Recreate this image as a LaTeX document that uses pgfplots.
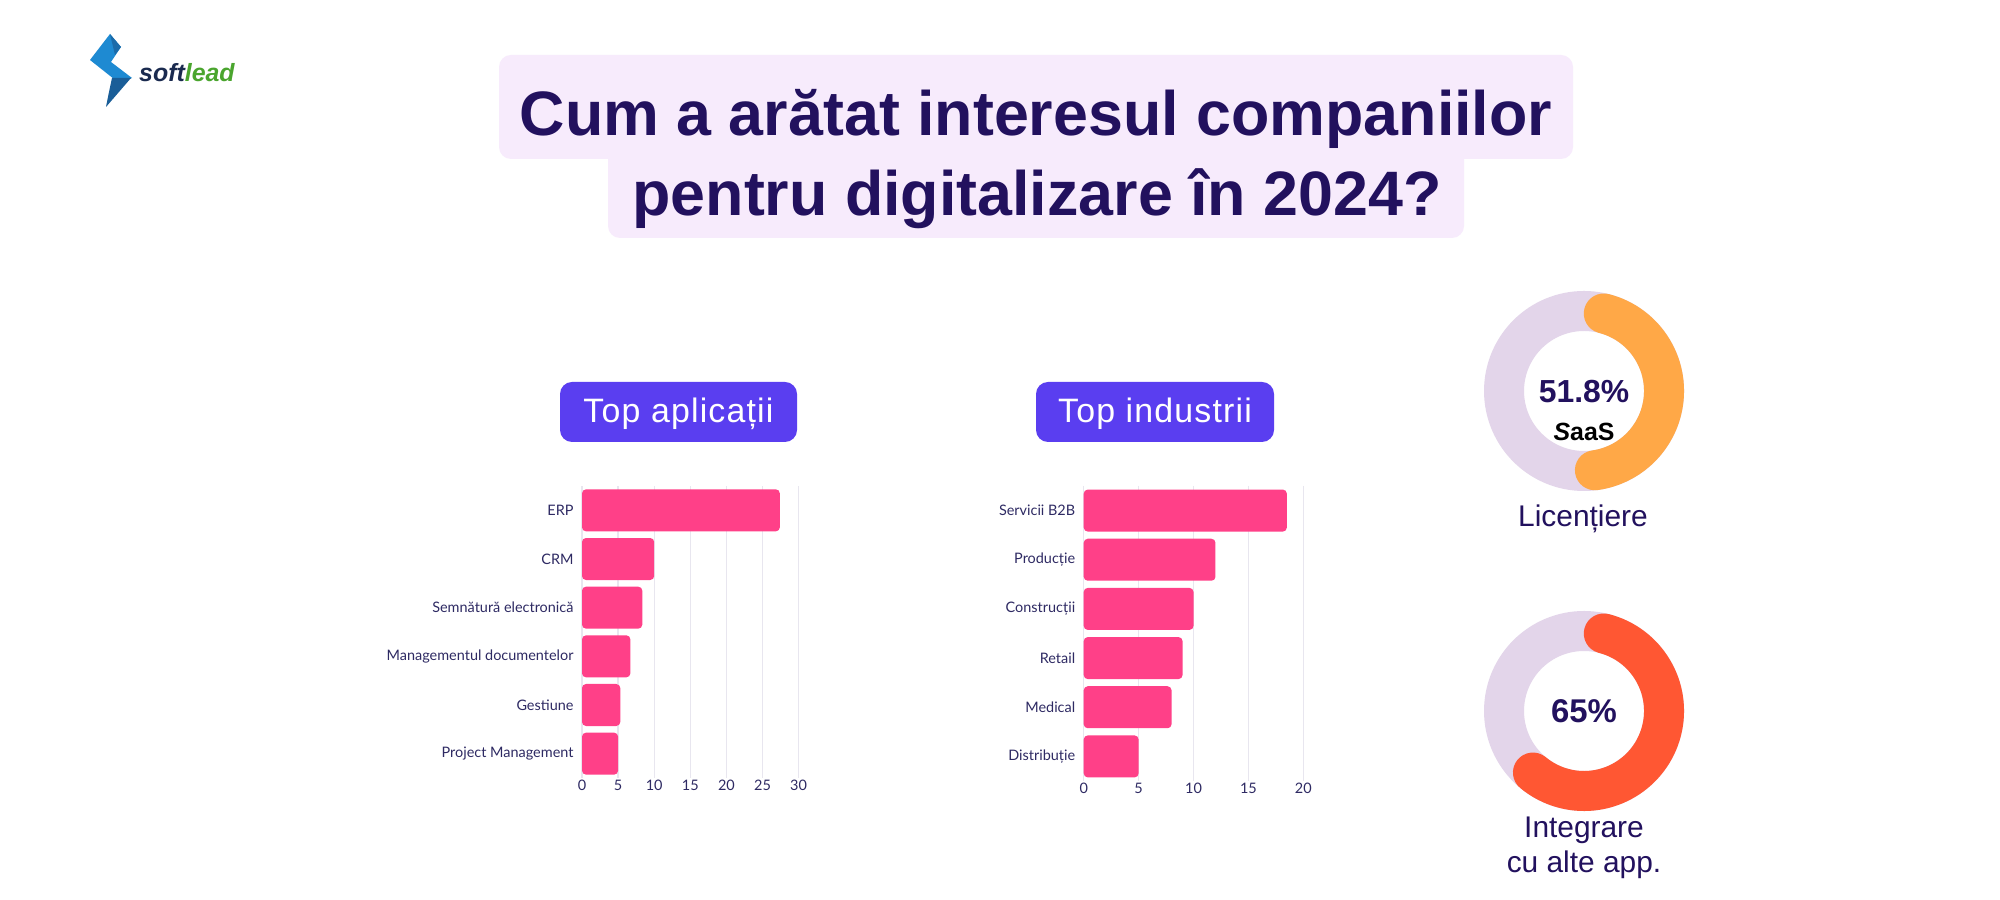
\documentclass[border=0pt]{standalone}
\usepackage{fontspec}
\setmainfont{Liberation Sans}
\newfontfamily\lato{Lato}
\newfontfamily\pillfont[LetterSpace=3.5]{Liberation Sans}
\usepackage{pgfplots}
\pgfplotsset{compat=1.18}
\definecolor{titlec}{HTML}{22115E}
\definecolor{titlebox}{HTML}{F7EBFC}
\definecolor{pillc}{HTML}{5A3EF0}
\definecolor{barc}{HTML}{FF4088}
\definecolor{tickc}{HTML}{2E2A63}
\definecolor{gridc}{HTML}{E8E6EF}
\definecolor{orangec}{HTML}{FFA847}
\definecolor{redc}{HTML}{FF5733}
\definecolor{trackc}{HTML}{E3D5EA}
\definecolor{logoblue}{HTML}{1E8AD2}
\definecolor{logodark}{HTML}{1A5E98}
\definecolor{logonavy}{HTML}{1A2A4F}
\definecolor{logogreen}{HTML}{4AA52E}

\pgfplotsset{
  barchart/.style={
    anchor=south west, scale only axis,
    xmin=0, ymin=-0.5, ymax=5.5, y dir=reverse,
    xbar, bar width=42bp,
    ytick={0,...,5},
    axis line style={draw=none},
    major tick length=0pt,
    xmajorgrids, grid style={color=gridc, line width=1.3bp},
    /pgf/number format/assume math mode=true,
    ticklabel style={font=\lato\fontsize{14.5}{16}\selectfont, text=tickc},
    yticklabel style={xshift=-5bp},
    xticklabel style={yshift=1bp},
  },
  donut/.style={
    anchor=south west, scale only axis, width=200bp, height=200bp,
    xmin=-100, xmax=100, ymin=-100, ymax=100, hide axis, clip=false
  }
}

\begin{document}
\begin{tikzpicture}[x=1bp,y=1bp]
\path[use as bounding box, fill=white] (0,0) rectangle (2000,900);

% logo
\fill[logoblue] (110,866) -- (121,853) -- (111,838) -- (132,822) -- (119,817) -- (90,840) -- cycle;
\fill[logodark] (112,822) -- (131,822) -- (106,793) -- (109,808) -- cycle;
\fill[logodark!70!logoblue] (110,866) -- (121,853) -- (115,845) -- cycle;
\node[anchor=base west, inner sep=0pt] at (139,818) {\fontsize{25}{28}\selectfont\bfseries\itshape\textcolor{logonavy}{soft}\textcolor{logogreen}{lead}};

% title box
\fill[titlebox, rounded corners=12bp] (499,741) rectangle (1573,845);
\fill[titlebox, rounded corners=12bp] (608,662) rectangle (1464,760);
\node[anchor=base, inner sep=0pt, text=titlec] at (1036,764) {\fontsize{63}{70}\selectfont\bfseries Cum a arătat interesul companiilor};
\node[anchor=base, inner sep=0pt, text=titlec] at (1037,684) {\fontsize{63}{70}\selectfont\bfseries pentru digitalizare în 2024?};

% pills
\fill[pillc, rounded corners=12bp] (560,458) rectangle (797,518);
\node[anchor=base, inner sep=0pt, text=white] at (678.5,477) {\pillfont\fontsize{34}{38}\selectfont Top aplicații};
\fill[pillc, rounded corners=12bp] (1036,458) rectangle (1274,518);
\node[anchor=base, inner sep=0pt, text=white] at (1155,477) {\pillfont\fontsize{34}{38}\selectfont Top industrii};

% left bar chart
\begin{axis}[barchart, at={(582bp,122bp)}, width=216.6bp, height=292bp,
  xmax=30, xtick={0,5,...,30},
  yticklabels={ERP, CRM, Semnătură electronică, Managementul documentelor, Gestiune, Project Management}]
\addplot[fill=barc, draw=none, rounded corners=4bp] coordinates {(27.4,0) (10,1) (8.35,2) (6.7,3) (5.3,4) (5,5)};
\end{axis}

% right bar chart
\begin{axis}[barchart, at={(1083.7bp,119bp)}, width=219.6bp, height=295bp,
  xmax=20, xtick={0,5,...,20},
  yticklabels={Servicii B2B, Producție, Construcții, Retail, Medical, Distribuție}]
\addplot[fill=barc, draw=none, rounded corners=4bp] coordinates {(18.5,0) (12,1) (10,2) (9,3) (8,4) (5,5)};
\end{axis}

% donuts
\begin{axis}[donut, at={(1484bp,409bp)}]
\pgfmathsetmacro{\va}{51.8}
\pgfmathsetmacro{\capang}{14.3}
\pgfmathsetmacro{\sa}{90-\capang}
\pgfmathsetmacro{\ea}{90-3.6*\va+\capang}
\draw[trackc, line width=40bp] (axis cs:0,0) circle[radius=80];
\draw[orangec, line width=40bp, line cap=round] (axis cs:{80*cos(\sa)},{80*sin(\sa)}) arc[start angle=\sa, end angle=\ea, radius=80];
\end{axis}
\node[anchor=base, inner sep=0pt, text=titlec] at (1584,497) {\fontsize{32}{36}\selectfont\bfseries 51.8\%};
\node[anchor=base, inner sep=0pt, text=black] at (1584,459) {\fontsize{25}{28}\selectfont\bfseries\itshape S\upshape aaS};
\node[anchor=base, inner sep=0pt, text=titlec] at (1583,373) {\fontsize{30}{34}\selectfont Licențiere};

\begin{axis}[donut, at={(1484bp,89bp)}]
\pgfmathsetmacro{\va}{65}
\pgfmathsetmacro{\capang}{14.3}
\pgfmathsetmacro{\sa}{90-\capang}
\pgfmathsetmacro{\ea}{90-3.6*\va+\capang}
\draw[trackc, line width=40bp] (axis cs:0,0) circle[radius=80];
\draw[redc, line width=40bp, line cap=round] (axis cs:{80*cos(\sa)},{80*sin(\sa)}) arc[start angle=\sa, end angle=\ea, radius=80];
\end{axis}
\node[anchor=base, inner sep=0pt, text=titlec] at (1584,177) {\fontsize{33}{36}\selectfont\bfseries 65\%};
\node[anchor=base, inner sep=0pt, text=titlec] at (1584,62) {\fontsize{30}{34}\selectfont Integrare};
\node[anchor=base, inner sep=0pt, text=titlec] at (1584,27) {\fontsize{30}{34}\selectfont cu alte app.};
\end{tikzpicture}
\end{document}
